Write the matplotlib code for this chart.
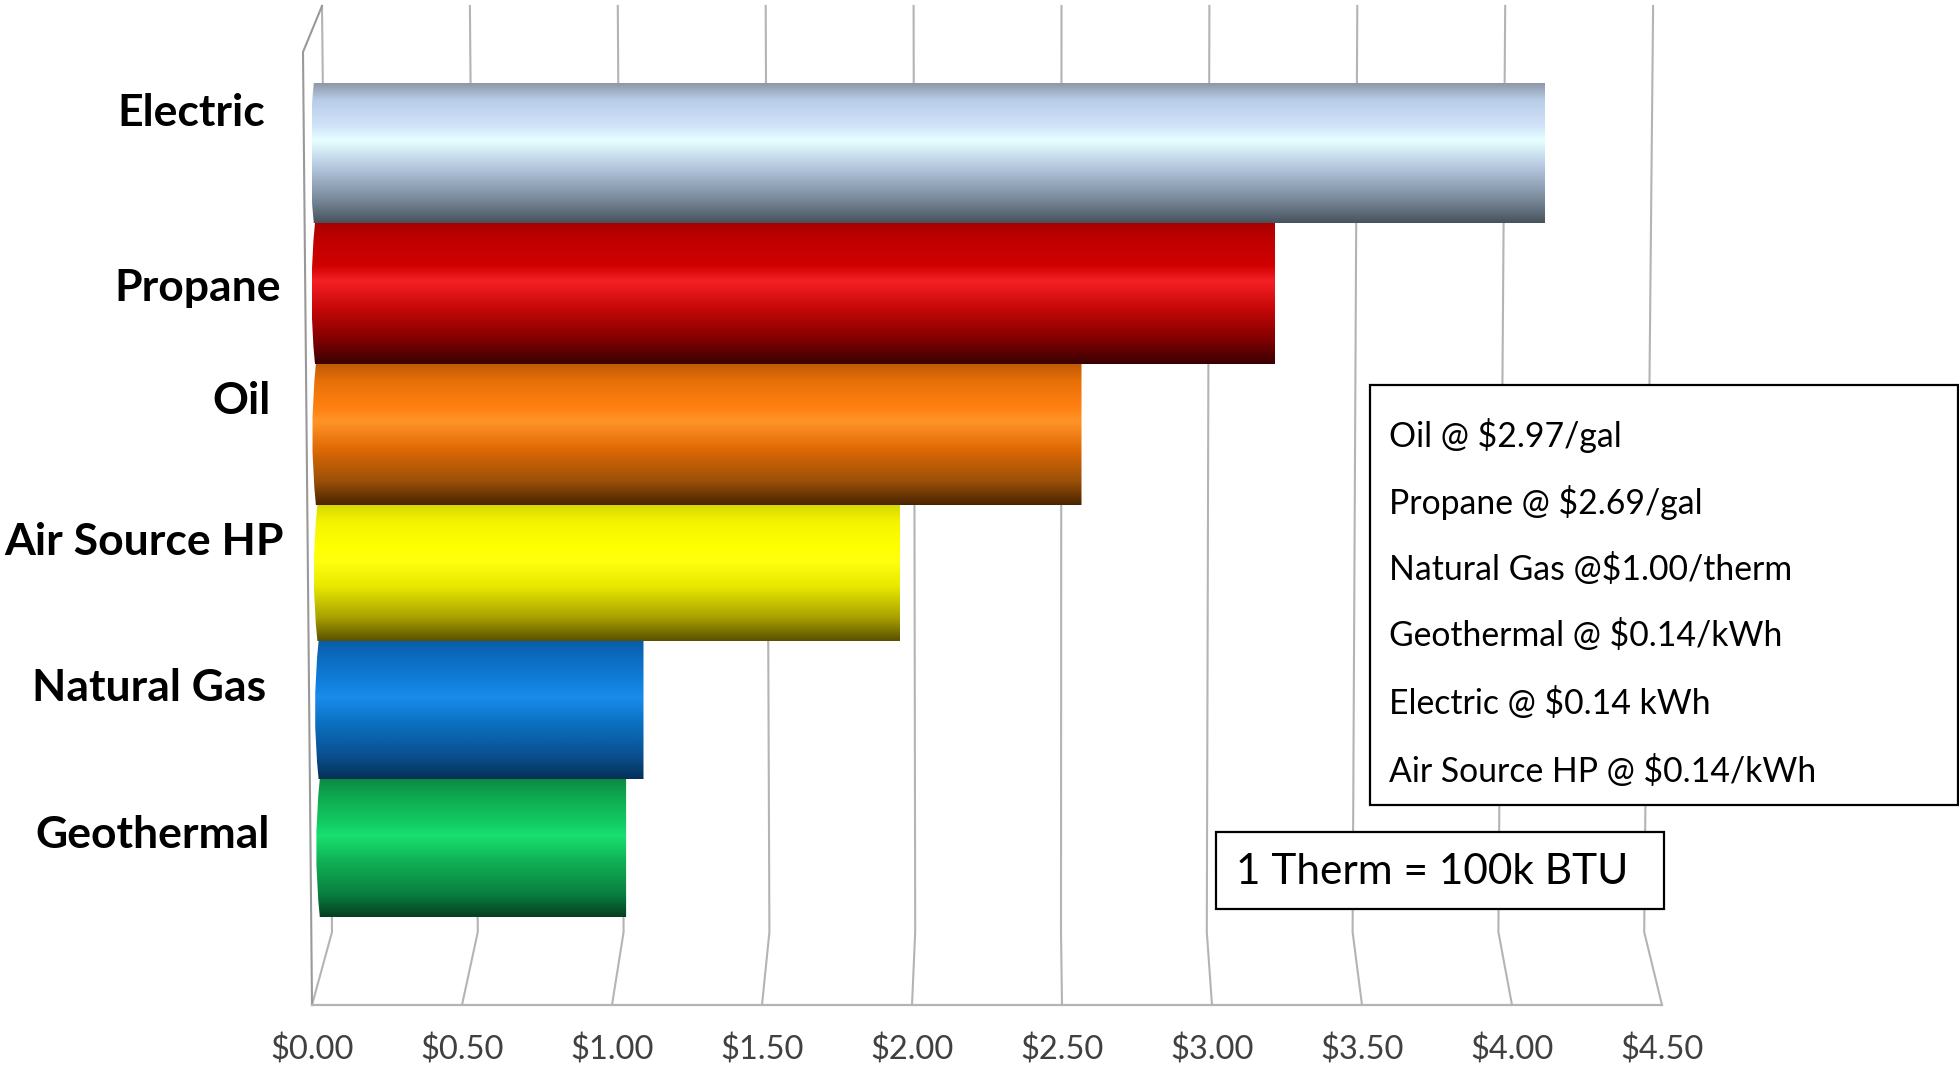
import numpy as np
import matplotlib
matplotlib.use("Agg")
import matplotlib.pyplot as plt
from matplotlib.colors import LinearSegmentedColormap
from matplotlib.patches import PathPatch, Rectangle
from matplotlib.path import Path

plt.rcParams["font.family"] = ["Lato", "DejaVu Sans"]

W, H = 1959, 1066

# cost per 100k BTU, top bar first
categories = ["Electric", "Propane", "Oil", "Air Source HP", "Natural Gas", "Geothermal"]
costs = [4.11, 3.21, 2.565, 1.96, 1.105, 1.047]
tick_values = [0.0, 0.5, 1.0, 1.5, 2.0, 2.5, 3.0, 3.5, 4.0, 4.5]
tick_labels = ["$0.00", "$0.50", "$1.00", "$1.50", "$2.00", "$2.50", "$3.00", "$3.50", "$4.00", "$4.50"]
rate_lines = [
    "Oil @ $2.97/gal",
    "Propane @ $2.69/gal",
    "Natural Gas @$1.00/therm",
    "Geothermal @ $0.14/kWh",
    "Electric @ $0.14 kWh",
    "Air Source HP @ $0.14/kWh",
]
therm_note = "1 Therm = 100k BTU"

# layout, in pixels from the top left
bar_edges = [83, 223, 364, 505, 641, 779, 917]
bar_starts = [-0.006, -0.002, 0.001, 0.006, 0.01, 0.014]
label_left = [117, 114, 212, 4, 32, 35]
label_mid = [113, 288, 401, 542, 688, 835]
rate_mid = [435, 502, 569, 636, 704, 771]

# cylinder shading, top to bottom of each bar
stops = [0, 0.12, 0.3, 0.41, 0.6, 0.83, 1]
shades = [
    ["#8d99a8", "#b8cce8", "#cfe2f8", "#e6ffff", "#b5c8e0", "#7a8a9c", "#47525c"],
    ["#a80000", "#c00000", "#d00000", "#f52025", "#c80808", "#800000", "#3a0000"],
    ["#c05a05", "#e87008", "#ff8010", "#ff9428", "#e06a05", "#9a5008", "#4a2400"],
    ["#d8d800", "#f4f400", "#ffff00", "#ffff10", "#e8e800", "#a8a000", "#5a5000"],
    ["#0a5ca8", "#0c6cc0", "#1080dc", "#1a8cec", "#0a70c0", "#0a5090", "#043058"],
    ["#0a8a40", "#0ea850", "#12c860", "#18e070", "#10b055", "#0a8040", "#044020"],
]

GRID = "#b4b4b4"
TICK_TEXT = "#404040"

fig = plt.figure(figsize=(W / 100, H / 100), dpi=100, facecolor="white")
ax = fig.add_axes([312 / W, (H - 1005) / H, 1350 / W, 1005 / H])
ax.set_xlim(0, 4.5)
ax.set_ylim(1005, 0)
ax.patch.set_alpha(0)


def fx(px):
    return px / W


def fy(py):
    return 1 - py / H


# back wall lines running into the floor
for v in tick_values:
    top_x = 10 / 300 + v * 295.8 / 300
    knee_x = 20 / 300 + v * 291.6 / 300
    ax.plot([top_x, knee_x, v], [6, 932, 1005], color=GRID, lw=1.5, zorder=1, clip_on=False)

# side wall edge
ax.plot([10 / 300, -9 / 300, 0], [6, 52, 1005], color="#999999", lw=1.5, zorder=1, clip_on=False)

# bars
for i, value in enumerate(costs):
    left = bar_starts[i]
    y_top, y_bot = bar_edges[i], bar_edges[i + 1]
    cmap = LinearSegmentedColormap.from_list("shade" + str(i), list(zip(stops, shades[i])))
    img = ax.imshow(np.linspace(0, 1, 256)[:, None], cmap=cmap, aspect="auto",
                    extent=[left - 0.02, value, y_bot, y_top], interpolation="bilinear", zorder=3)
    bulge = 0.012
    outline = Path(
        [(left + bulge, y_top), (value, y_top), (value, y_bot), (left + bulge, y_bot),
         (left - bulge, (y_top + y_bot) / 2), (left + bulge, y_top), (left + bulge, y_top)],
        [Path.MOVETO, Path.LINETO, Path.LINETO, Path.LINETO,
         Path.CURVE3, Path.CURVE3, Path.CLOSEPOLY],
    )
    # rounded left end may poke just past the axes edge
    img.set_clip_box(None)
    img.set_clip_path(PathPatch(outline, transform=ax.transData))

ax.set_xlim(0, 4.5)
ax.set_ylim(1005, 0)

for side in ["left", "top", "right"]:
    ax.spines[side].set_visible(False)
ax.spines["bottom"].set_color(GRID)
ax.spines["bottom"].set_linewidth(1.6)
ax.set_yticks([])
ax.set_xticks(tick_values)
ax.set_xticklabels(tick_labels, fontsize=23.5, color=TICK_TEXT)
ax.tick_params(axis="x", length=0, pad=21)

for name, x, y in zip(categories, label_left, label_mid):
    fig.text(fx(x), fy(y), name, fontsize=32, fontweight="bold", color="black", ha="left", va="center")

# price assumptions box
fig.add_artist(Rectangle((fx(1370), fy(805)), fx(1958 - 1370), fy(385) - fy(805), transform=fig.transFigure,
                         facecolor="white", edgecolor="black", lw=1.6, zorder=5))
for line, y in zip(rate_lines, rate_mid):
    fig.text(fx(1389), fy(y), line, fontsize=24.3, color="black", ha="left", va="center", zorder=6)

# therm note box
fig.add_artist(Rectangle((fx(1216), fy(909)), fx(1664 - 1216), fy(832) - fy(909), transform=fig.transFigure,
                         facecolor="white", edgecolor="black", lw=1.6, zorder=5))
fig.text(fx(1236), fy(872), therm_note, fontsize=30.5, color="black", ha="left", va="center", zorder=6)

fig.savefig("out.png", dpi=100, facecolor="white")
